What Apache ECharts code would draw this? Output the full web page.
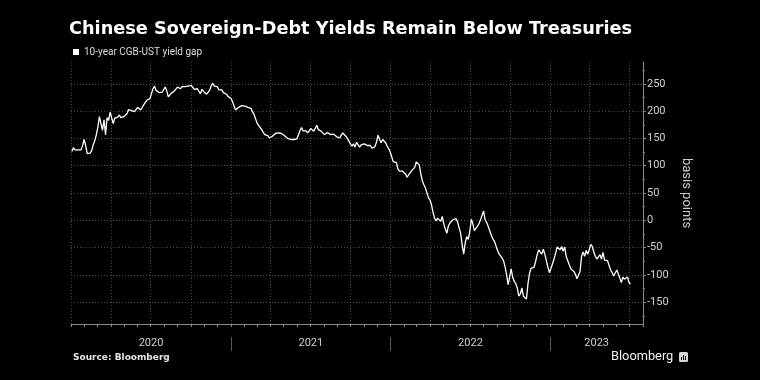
<!DOCTYPE html>
<html>
<head>
<meta charset="utf-8">
<script src="https://cdn.jsdelivr.net/npm/echarts@6/dist/echarts.min.js"></script>
<style>
html,body{margin:0;padding:0;background:#000;}
#chart{width:760px;height:380px;}
</style>
</head>
<body>
<div id="chart"></div>
<script>
// ---- data: readings every 3.5 days, first on 2020-01-03 (basis points) ----
const seriesName = '10-year CGB-UST yield gap';
const firstDay = [2020, 0, 3];
const stepDays = 3.5;
const yieldGap = [
  126,133,129,127,129,126,129,137,148,137,
  122,121,123,128,139,146,157,171,190,177,
  165,184,157,188,183,198,199,177,187,188,
  189,193,188,190,190,193,195,203,200,201,
  198,199,203,207,208,202,207,212,215,220,
  220,223,232,241,246,238,238,234,232,235,
  238,244,237,226,229,233,235,237,240,244,
  247,241,245,243,245,242,246,245,247,245,
  240,237,241,236,232,240,236,238,231,231,
  238,246,251,246,245,245,239,241,239,234,
  234,231,227,226,223,217,209,202,205,207,
  206,210,212,209,210,207,205,205,199,194,
  186,178,174,171,166,161,157,157,155,151,
  150,154,157,159,158,160,162,159,157,155,
  153,150,147,148,150,148,150,149,152,164,
  170,164,167,164,160,164,168,170,163,160,
  174,166,168,163,164,157,156,161,160,157,
  155,158,156,153,156,151,156,160,157,154,
  150,145,140,136,140,134,143,140,134,138,
  138,140,140,137,140,137,132,129,135,143,
  156,148,142,148,146,142,136,131,125,116,
  107,105,106,94,90,92,90,91,85,79,
  82,87,91,93,97,107,109,101,85,72,
  65,59,50,41,37,28,14,4,-1,4,
  4,-2,7,-7,-16,-24,-10,-5,-5,1,
  2,3,-3,-14,-24,-45,-62,-41,-30,-35,
  -20,2,-7,-19,-15,-11,-6,1,-1,17,
  1,-4,-11,-19,-27,-34,-38,-46,-55,-61,
  -64,-69,-74,-85,-99,-118,-104,-89,-104,-112,
  -116,-124,-139,-135,-124,-139,-137,-144,-116,-97,
  -88,-88,-86,-75,-63,-54,-52,-62,-53,-62,
  -74,-86,-96,-93,-80,-71,-61,-49,-46,-54,
  -48,-57,-49,-67,-74,-82,-89,-92,-94,-99,
  -107,-108,-94,-66,-58,-66,-55,-62,-54,-44,
  -48,-58,-66,-71,-68,-63,-71,-59,-73,-71,
  -74,-83,-91,-96,-102,-101,-91,-98,-106,-114,
  -104,-108,-107,-104,-114,-117
];
const yTickValues = [-150, -100, -50, 0, 50, 100, 150, 200, 250];
const yMinorTickValues = [-175, -125, -75, -25, 25, 75, 125, 175, 225, 275];
const yearLabels = ['2020', '2021', '2022', '2023'];

// ---- build ----
const DAY = 86400000;
const D = (y, m, d) => new Date(y, m, d || 1).getTime();
const xMin = D(2020, 0, 1), xMax = D(2023, 7, 1);
const t0 = D(firstDay[0], firstDay[1], firstDay[2]);
const lineData = yieldGap.map((v, i) => [t0 + i * stepDays * DAY, v]);

const monthTicks = [], quarterTicks = [];
for (let k = 0; ; k++) {
  const t = D(2020, k);
  if (t > xMax) break;
  monthTicks.push(t);
  if (k % 3 === 0) quarterTicks.push(t);
}
const yearBounds = yearLabels.slice(1).map(y => D(+y, 0, 1));
const yearCenters = yearLabels.map(y => {
  const s = Math.max(D(+y, 0, 1), xMin), e = Math.min(D(+y + 1, 0, 1), xMax);
  return (s + e) / 2;
});

const axisGrey = '#8a8a8a';
const gridStyle = { color: '#4a4a4a', type: [1, 2], width: 1 };
const font = 'Roboto, "Noto Sans", sans-serif';
const wideBold = '"DejaVu Sans", Roboto, sans-serif';

const baseX = {
  type: 'value', min: xMin, max: xMax, position: 'bottom',
  axisLine: { show: false, onZero: false },
  axisTick: { show: false }, axisLabel: { show: false }, splitLine: { show: false }
};

const chart = echarts.init(document.getElementById('chart'), null, { renderer: 'canvas' });
chart.setOption({
  backgroundColor: '#000',
  animation: false,
  textStyle: { fontFamily: font },
  title: [
    { text: 'Chinese Sovereign-Debt Yields Remain Below Treasuries', left: 69, top: 20, padding: 0,
      textStyle: { color: '#fff', fontSize: 17.7, fontWeight: 'bold', fontFamily: wideBold } },
    { text: 'Source: Bloomberg', left: 73, top: 353, padding: 0,
      textStyle: { color: '#e6e6e6', fontSize: 9, fontWeight: 'bold', fontFamily: wideBold } },
    { text: 'Bloomberg', left: 611, top: 350, padding: 0,
      textStyle: { color: '#f0f0f0', fontSize: 12.8, fontWeight: 'normal', fontFamily: font } }
  ],
  graphic: [
    { type: 'rect', left: 679, top: 352, shape: { width: 9, height: 10, r: 1.5 }, style: { fill: '#d8d8d8' } },
    { type: 'rect', left: 681, top: 357, shape: { width: 1, height: 3 }, style: { fill: '#000' } },
    { type: 'rect', left: 683, top: 355, shape: { width: 1, height: 5 }, style: { fill: '#000' } },
    { type: 'rect', left: 685, top: 356, shape: { width: 1, height: 4 }, style: { fill: '#000' } }
  ],
  legend: {
    data: [seriesName], left: 73, top: 47, padding: 0,
    icon: 'rect', itemWidth: 6, itemHeight: 6, itemGap: 4,
    textStyle: { color: '#dcdcdc', fontSize: 10, fontFamily: font }
  },
  grid: { left: 71, right: 117, top: 62, bottom: 56 },
  xAxis: [
    Object.assign({}, baseX, {
      axisLine: { show: true, onZero: false, lineStyle: { color: axisGrey, width: 1 } },
      axisTick: { show: true, customValues: monthTicks, length: 3, lineStyle: { color: axisGrey } }
    }),
    Object.assign({}, baseX, {
      axisTick: { show: false, customValues: quarterTicks },
      splitLine: { show: true, lineStyle: gridStyle }
    }),
    Object.assign({}, baseX, {
      offset: 13,
      axisTick: { show: true, customValues: yearBounds, length: 14, lineStyle: { color: '#5a5a5a' } },
      axisLabel: { show: true, customValues: yearCenters, margin: 1, color: '#d0d0d0', fontSize: 11,
        fontFamily: font, formatter: v => String(new Date(v).getFullYear()) }
    })
  ],
  yAxis: [
    {
      type: 'value', position: 'right', min: -190, max: 290,
      axisLine: { show: true, onZero: false, lineStyle: { color: axisGrey } },
      axisTick: { show: true, customValues: yTickValues, length: 3, lineStyle: { color: axisGrey } },
      axisLabel: { customValues: yTickValues, color: '#d0d0d0', fontSize: 11, margin: 4, fontFamily: font },
      splitLine: { show: true, lineStyle: gridStyle },
      name: 'basis points', nameLocation: 'middle', nameRotate: -90, nameGap: 34,
      nameTextStyle: { color: '#d0d0d0', fontSize: 13, fontFamily: font }
    },
    {
      type: 'value', position: 'right', min: -190, max: 290,
      axisLine: { show: false, onZero: false },
      axisTick: { show: true, customValues: yMinorTickValues, length: 2, lineStyle: { color: axisGrey } },
      axisLabel: { show: false }, splitLine: { show: false }
    }
  ],
  series: [{
    name: seriesName, type: 'line', data: lineData, xAxisIndex: 0, yAxisIndex: 0,
    showSymbol: false, symbol: 'none', color: '#ffffff',
    lineStyle: { color: '#ffffff', width: 1.3 }
  }]
});
</script>
</body>
</html>
